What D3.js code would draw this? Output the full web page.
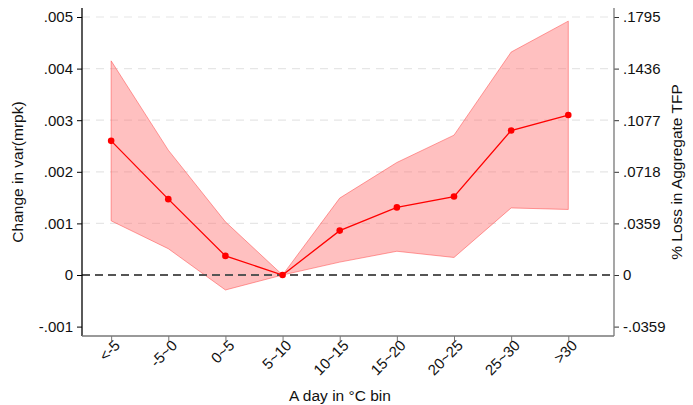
<!DOCTYPE html>
<html>
<head>
<meta charset="utf-8">
<script src="https://cdn.jsdelivr.net/npm/d3@7"></script>
<style>
  html, body { margin: 0; padding: 0; background: #fff; }
  svg { display: block; font-family: "Liberation Sans", Arial, sans-serif; }
</style>
</head>
<body>
<svg id="chart" width="693" height="405"></svg>
<script>
// Temperature bins
const bins = ["<-5", "-5~0", "0~5", "5~10", "10~15", "15~20", "20~25", "25~30", ">30"];
// Point estimates of the change in var(mrpk)
const estimate = [0.00260, 0.00147, 0.00037, 0.0, 0.00086, 0.00131, 0.00152, 0.00280, 0.00310];
// Confidence band bounds
const upper = [0.00415, 0.00242, 0.00103, 0.0, 0.00149, 0.00218, 0.00271, 0.00432, 0.00492];
const lower = [0.00105, 0.00051, -0.00029, 0.0, 0.00025, 0.00046, 0.00034, 0.00130, 0.00127];
// Axis ticks
const leftTicks = [-0.001, 0, 0.001, 0.002, 0.003, 0.004, 0.005];
const leftTickLabels = ["-.001", "0", ".001", ".002", ".003", ".004", ".005"];
const rightTickLabels = ["-.0359", "0", ".0359", ".0718", ".1077", ".1436", ".1795"];

const svg = d3.select("#chart");
const plotLeft = 82, plotRight = 614, plotTop = 8, plotBottom = 336;

const x = d3.scaleLinear().domain([0.49, 9.8]).range([plotLeft, plotRight]);
const y = d3.scaleLinear().domain([0, 0.005]).range([275, 17]);

const rows = bins.map((b, i) => ({ i: i + 1, b, est: estimate[i], hi: upper[i], lo: lower[i] }));

// Horizontal grid
svg.append("g").selectAll("line")
  .data(leftTicks.filter(t => t > 0))
  .join("line")
  .attr("x1", plotLeft).attr("x2", plotRight)
  .attr("y1", d => y(d)).attr("y2", d => y(d))
  .attr("stroke", "#e6e6e6").attr("stroke-width", 1.2)
  .attr("stroke-dasharray", "8,6");

// Confidence band
const area = d3.area().x(d => x(d.i)).y0(d => y(d.lo)).y1(d => y(d.hi));
svg.append("path").datum(rows)
  .attr("d", area)
  .attr("fill", "rgba(255,110,110,0.43)")
  .attr("stroke", "rgba(255,80,80,0.55)")
  .attr("stroke-width", 1);

// Zero reference line
svg.append("line")
  .attr("x1", plotLeft).attr("x2", plotRight)
  .attr("y1", y(0)).attr("y2", y(0))
  .attr("stroke", "#555").attr("stroke-width", 1.8)
  .attr("stroke-dasharray", "8,5");

// Estimate line and markers
const line = d3.line().x(d => x(d.i)).y(d => y(d.est));
svg.append("path").datum(rows)
  .attr("d", line).attr("fill", "none")
  .attr("stroke", "#ff0000").attr("stroke-width", 1.3);
svg.append("g").selectAll("circle").data(rows).join("circle")
  .attr("cx", d => x(d.i)).attr("cy", d => y(d.est)).attr("r", 3.3)
  .attr("fill", "#ff0000");

// Left axis
const yLeft = d3.axisLeft(y).tickValues(leftTicks).tickSize(5).tickPadding(4)
  .tickFormat((d, i) => leftTickLabels[i]);
const gL = svg.append("g").attr("transform", `translate(${plotLeft},0)`).call(yLeft);
gL.select(".domain").remove();
gL.append("line").attr("x1", 0).attr("x2", 0).attr("y1", plotTop).attr("y2", plotBottom)
  .attr("stroke", "#000").attr("stroke-width", 1.3);
gL.selectAll(".tick line").attr("stroke", "#000");
gL.selectAll(".tick text").attr("font-size", 15).attr("fill", "#111")
  .attr("font-family", "Liberation Sans, Arial, sans-serif");

// Right axis
const yRight = d3.axisRight(y).tickValues(leftTicks).tickSize(5).tickPadding(4)
  .tickFormat((d, i) => rightTickLabels[i]);
const gR = svg.append("g").attr("transform", `translate(${plotRight},0)`).call(yRight);
gR.select(".domain").remove();
gR.append("line").attr("x1", 0).attr("x2", 0).attr("y1", plotTop).attr("y2", plotBottom)
  .attr("stroke", "#777").attr("stroke-width", 1.3);
gR.selectAll(".tick line").attr("stroke", "#333");
gR.selectAll(".tick text").attr("font-size", 15).attr("fill", "#111")
  .attr("font-family", "Liberation Sans, Arial, sans-serif");

// Bottom axis
const xAxis = d3.axisBottom(x).tickValues(rows.map(d => d.i)).tickSize(5)
  .tickFormat((d, i) => bins[i]);
const gB = svg.append("g").attr("transform", `translate(0,${plotBottom})`).call(xAxis);
gB.select(".domain").remove();
gB.append("line").attr("x1", plotLeft).attr("x2", plotRight).attr("y1", 0).attr("y2", 0)
  .attr("stroke", "#777").attr("stroke-width", 1.3);
gB.selectAll(".tick line").attr("stroke", "#777");
gB.selectAll(".tick text")
  .attr("font-size", 15).attr("fill", "#111")
  .attr("font-family", "Liberation Sans, Arial, sans-serif")
  .attr("text-anchor", "end")
  .attr("dy", "0.35em")
  .attr("transform", "translate(0,1) rotate(-45)");

// Axis titles
svg.append("text")
  .attr("transform", "translate(23,172) rotate(-90)")
  .attr("text-anchor", "middle").attr("font-size", 15.5).attr("fill", "#111")
  .text("Change in var(mrpk)");
svg.append("text")
  .attr("transform", "translate(682,172) rotate(-90)")
  .attr("text-anchor", "middle").attr("font-size", 15.5).attr("fill", "#111")
  .text("% Loss in Aggregate TFP");
svg.append("text")
  .attr("x", 340).attr("y", 401)
  .attr("text-anchor", "middle").attr("font-size", 15.5).attr("fill", "#111")
  .text("A day in °C bin");
</script>
</body>
</html>
